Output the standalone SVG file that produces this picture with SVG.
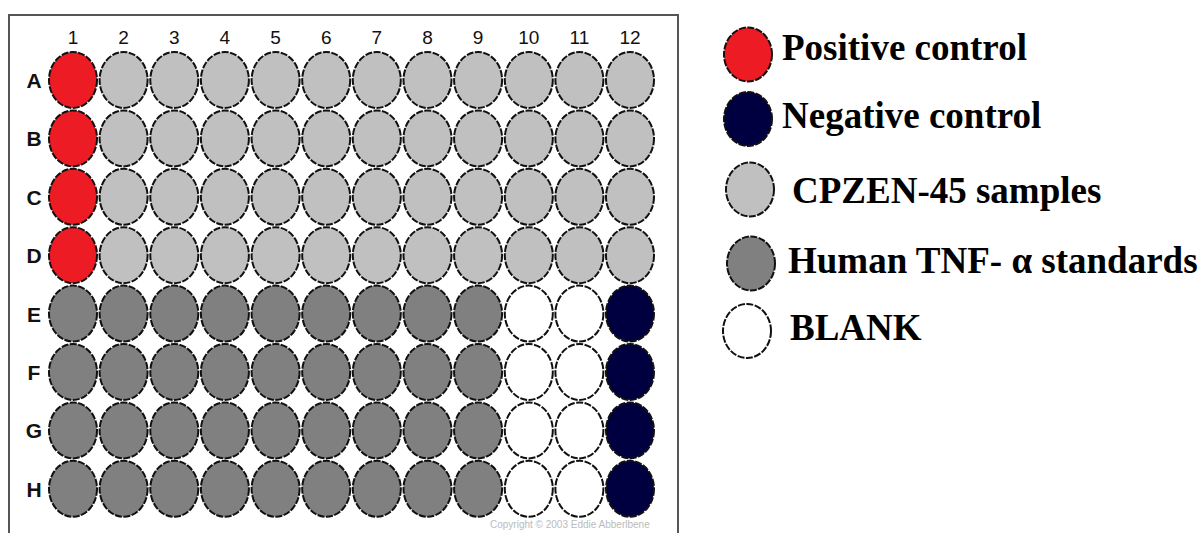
<svg xmlns="http://www.w3.org/2000/svg" xmlns:xlink="http://www.w3.org/1999/xlink" width="1201" height="533" viewBox="0 0 1201 533">
<style>
.w{stroke:#111;stroke-width:2;stroke-dasharray:7 1.5}
.r{fill:#ED1C24}.l{fill:#C0C0C0}.d{fill:#808080}.n{fill:#000040}.b{fill:#FFFFFF}
.lab{font-family:"Liberation Sans",Arial,sans-serif;font-size:19px;fill:#111;text-anchor:middle}
.leg{font-family:"Liberation Serif","Times New Roman",serif;font-weight:bold;font-size:37px;fill:#000}
.cp{font-family:"Liberation Sans",Arial,sans-serif;font-size:10px;fill:#bbb}
</style>
<defs>
<ellipse id="w" cx="0" cy="0" rx="24" ry="28"/>
<ellipse id="lw" cx="0" cy="0" rx="24" ry="27"/>
</defs>
<rect width="1201" height="533" fill="#fff"/>
<g id="plate">
<path d="M9,535 V15 H678 V535" fill="none" stroke="#555" stroke-width="2"/>
<g id="col-labels" class="lab">
<text x="73" y="44">1</text><text x="123.6" y="44">2</text><text x="174.3" y="44">3</text><text x="224.9" y="44">4</text><text x="275.6" y="44">5</text><text x="326.2" y="44">6</text><text x="376.8" y="44">7</text><text x="427.5" y="44">8</text><text x="478.1" y="44">9</text><text x="528.8" y="44">10</text><text x="579.4" y="44">11</text><text x="630" y="44">12</text>
</g>
<g id="row-labels" class="lab" style="font-size:21px;font-weight:bold">
<text x="34" y="88">A</text><text x="34" y="146.4">B</text><text x="34" y="204.8">C</text><text x="34" y="263.2">D</text><text x="34" y="321.6">E</text><text x="34" y="380">F</text><text x="34" y="438.4">G</text><text x="34" y="496.8">H</text>
</g>
<g id="wells">
<g id="rowA" transform="translate(0,80)">
<use href="#w" x="73" class="w r"/><use href="#w" x="123.6" class="w l"/><use href="#w" x="174.3" class="w l"/><use href="#w" x="224.9" class="w l"/><use href="#w" x="275.6" class="w l"/><use href="#w" x="326.2" class="w l"/><use href="#w" x="376.8" class="w l"/><use href="#w" x="427.5" class="w l"/><use href="#w" x="478.1" class="w l"/><use href="#w" x="528.8" class="w l"/><use href="#w" x="579.4" class="w l"/><use href="#w" x="630" class="w l"/>
</g>
<g id="rowB" transform="translate(0,138.4)">
<use href="#w" x="73" class="w r"/><use href="#w" x="123.6" class="w l"/><use href="#w" x="174.3" class="w l"/><use href="#w" x="224.9" class="w l"/><use href="#w" x="275.6" class="w l"/><use href="#w" x="326.2" class="w l"/><use href="#w" x="376.8" class="w l"/><use href="#w" x="427.5" class="w l"/><use href="#w" x="478.1" class="w l"/><use href="#w" x="528.8" class="w l"/><use href="#w" x="579.4" class="w l"/><use href="#w" x="630" class="w l"/>
</g>
<g id="rowC" transform="translate(0,196.8)">
<use href="#w" x="73" class="w r"/><use href="#w" x="123.6" class="w l"/><use href="#w" x="174.3" class="w l"/><use href="#w" x="224.9" class="w l"/><use href="#w" x="275.6" class="w l"/><use href="#w" x="326.2" class="w l"/><use href="#w" x="376.8" class="w l"/><use href="#w" x="427.5" class="w l"/><use href="#w" x="478.1" class="w l"/><use href="#w" x="528.8" class="w l"/><use href="#w" x="579.4" class="w l"/><use href="#w" x="630" class="w l"/>
</g>
<g id="rowD" transform="translate(0,255.2)">
<use href="#w" x="73" class="w r"/><use href="#w" x="123.6" class="w l"/><use href="#w" x="174.3" class="w l"/><use href="#w" x="224.9" class="w l"/><use href="#w" x="275.6" class="w l"/><use href="#w" x="326.2" class="w l"/><use href="#w" x="376.8" class="w l"/><use href="#w" x="427.5" class="w l"/><use href="#w" x="478.1" class="w l"/><use href="#w" x="528.8" class="w l"/><use href="#w" x="579.4" class="w l"/><use href="#w" x="630" class="w l"/>
</g>
<g id="rowE" transform="translate(0,313.6)">
<use href="#w" x="73" class="w d"/><use href="#w" x="123.6" class="w d"/><use href="#w" x="174.3" class="w d"/><use href="#w" x="224.9" class="w d"/><use href="#w" x="275.6" class="w d"/><use href="#w" x="326.2" class="w d"/><use href="#w" x="376.8" class="w d"/><use href="#w" x="427.5" class="w d"/><use href="#w" x="478.1" class="w d"/><use href="#w" x="528.8" class="w b"/><use href="#w" x="579.4" class="w b"/><use href="#w" x="630" class="w n"/>
</g>
<g id="rowF" transform="translate(0,372)">
<use href="#w" x="73" class="w d"/><use href="#w" x="123.6" class="w d"/><use href="#w" x="174.3" class="w d"/><use href="#w" x="224.9" class="w d"/><use href="#w" x="275.6" class="w d"/><use href="#w" x="326.2" class="w d"/><use href="#w" x="376.8" class="w d"/><use href="#w" x="427.5" class="w d"/><use href="#w" x="478.1" class="w d"/><use href="#w" x="528.8" class="w b"/><use href="#w" x="579.4" class="w b"/><use href="#w" x="630" class="w n"/>
</g>
<g id="rowG" transform="translate(0,430.4)">
<use href="#w" x="73" class="w d"/><use href="#w" x="123.6" class="w d"/><use href="#w" x="174.3" class="w d"/><use href="#w" x="224.9" class="w d"/><use href="#w" x="275.6" class="w d"/><use href="#w" x="326.2" class="w d"/><use href="#w" x="376.8" class="w d"/><use href="#w" x="427.5" class="w d"/><use href="#w" x="478.1" class="w d"/><use href="#w" x="528.8" class="w b"/><use href="#w" x="579.4" class="w b"/><use href="#w" x="630" class="w n"/>
</g>
<g id="rowH" transform="translate(0,488.8)">
<use href="#w" x="73" class="w d"/><use href="#w" x="123.6" class="w d"/><use href="#w" x="174.3" class="w d"/><use href="#w" x="224.9" class="w d"/><use href="#w" x="275.6" class="w d"/><use href="#w" x="326.2" class="w d"/><use href="#w" x="376.8" class="w d"/><use href="#w" x="427.5" class="w d"/><use href="#w" x="478.1" class="w d"/><use href="#w" x="528.8" class="w b"/><use href="#w" x="579.4" class="w b"/><use href="#w" x="630" class="w n"/>
</g>
</g>
<text class="cp" x="490" y="528">Copyright © 2003 Eddie Abberlbene</text>
</g>
<g id="legend">
<g id="leg-positive"><use href="#lw" x="748" y="54.5" class="w r"/><text class="leg" x="782" y="60">Positive control</text></g>
<g id="leg-negative"><use href="#lw" x="748" y="119" class="w n"/><text class="leg" x="782" y="128">Negative control</text></g>
<g id="leg-samples"><use href="#lw" x="750" y="189.5" class="w l"/><text class="leg" x="792" y="203">CPZEN-45 samples</text></g>
<g id="leg-standards"><use href="#lw" x="751" y="263.5" class="w d"/><text class="leg" x="788" y="273">Human TNF- α standards</text></g>
<g id="leg-blank"><use href="#lw" x="747" y="331" class="w b"/><text class="leg" x="790" y="340">BLANK</text></g>
</g>
</svg>
